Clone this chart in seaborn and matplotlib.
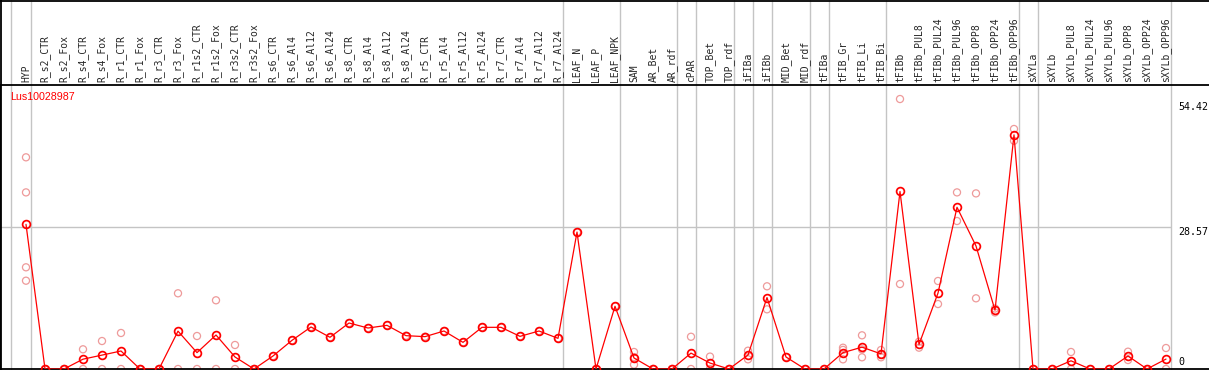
import matplotlib
matplotlib.use("Agg")
import matplotlib.pyplot as plt
import seaborn as sns
import numpy as np
import pandas as pd
from matplotlib.lines import Line2D

gene = "Lus10028987"

samples = ["HYP", "R_s2_CTR", "R_s2_Fox", "R_s4_CTR", "R_s4_Fox", "R_r1_CTR", "R_r1_Fox",
           "R_r3_CTR", "R_r3_Fox", "R_r1s2_CTR", "R_r1s2_Fox", "R_r3s2_CTR", "R_r3s2_Fox",
           "R_s6_CTR", "R_s6_Al4", "R_s6_Al12", "R_s6_Al24", "R_s8_CTR", "R_s8_Al4", "R_s8_Al12",
           "R_s8_Al24", "R_r5_CTR", "R_r5_Al4", "R_r5_Al12", "R_r5_Al24", "R_r7_CTR", "R_r7_Al4",
           "R_r7_Al12", "R_r7_Al24", "LEAF_N", "LEAF_P", "LEAF_NPK", "SAM", "AR_Bet", "AR_rdf",
           "cPAR", "TOP_Bet", "TOP_rdf", "iFIBa", "iFIBb", "MID_Bet", "MID_rdf", "tFIBa",
           "tFIB_Gr", "tFIB_Li", "tFIB_Bi", "tFIBb", "tFIBb_PUL8", "tFIBb_PUL24", "tFIBb_PUL96",
           "tFIBb_OPP8", "tFIBb_OPP24", "tFIBb_OPP96", "sXYLa", "sXYLb", "sXYLb_PUL8",
           "sXYLb_PUL24", "sXYLb_PUL96", "sXYLb_OPP8", "sXYLb_OPP24", "sXYLb_OPP96"]

means = [29.15, 0, 0, 1.98, 2.8, 3.63, 0, 0, 7.63, 3.3, 6.85, 2.42, 0,
         2.62, 5.78, 8.47, 6.39, 9.27, 8.26, 8.8, 6.72, 6.52, 7.66, 5.37, 8.4, 8.4, 6.58,
         7.66, 6.18, 27.6, 0, 12.64, 2.22, 0, 0, 3.2, 1.2, 0, 2.82, 14.4, 2.42, 0, 0,
         3.3, 4.4, 3.05, 35.78, 4.95, 15.3, 32.6, 24.8, 11.85, 47.2, 0, 0, 1.65,
         0, 0, 2.62, 0, 2.0]

replicates = [[42.67, 35.6, 20.5, 17.8], [0, 0], [0, 0], [3.97, 0], [5.64, 0], [7.26, 0],
              [0, 0], [0, 0], [15.26, 0], [6.65, 0], [13.85, 0], [4.84, 0], [0, 0],
              [2.62], [5.78], [8.47], [6.39], [9.27], [8.26], [8.8], [6.72], [6.52], [7.66],
              [5.37], [8.4], [8.4], [6.58], [7.66], [6.18], [27.6], [0], [12.64],
              [3.43, 2.4, 0.87], [0, 0], [0, 0], [6.5, 0], [2.5, 0], [0, 0], [3.69, 1.95],
              [16.67, 12.03], [2.42], [0], [0], [4.29, 3.85, 1.95], [6.79, 3.95, 2.36],
              [3.83, 2.9, 2.36], [54.42, 17.13], [5.5, 4.3], [17.74, 13.1], [35.6, 29.83],
              [35.4, 14.25], [12.2, 11.4], [48.38, 46.0], [0], [0], [3.43, 0], [0], [0],
              [3.49, 1.81], [0], [4.23, 0]]

group_ends = [0, 28, 31, 34, 35, 37, 38, 39, 41, 42, 45, 52, 53, 60]
scale_labels = ["54.42", "28.57", "0"]
scale_values = [54.42, 28.57, 0]

# ---------------------------------------------------------------
W, H = 1209, 370
fig = plt.figure(figsize=(W / 100, H / 100), dpi=100)
sns.set_style("white")

# axes: pixel rows 85..369 from top
ax = fig.add_axes([0, 1 / H, 1, 284 / H])
px_per_unit = 4.961
ytop = 284 / px_per_unit
x0 = -26 / 19
x1 = (W - 26) / 19
ax.set_xlim(x0, x1)
ax.set_ylim(0, ytop)

idx = np.arange(len(samples))
rep_df = pd.DataFrame({
    "x": np.concatenate([[i] * len(r) for i, r in enumerate(replicates)]),
    "value": np.concatenate([np.array(r, dtype=float) for r in replicates]),
})
mean_df = pd.DataFrame({"x": idx, "value": means})

# grid lines
for g in group_ends:
    ax.axvline(g + 0.25, ymin=0, ymax=369 / 284, color="#c4c4c4", lw=1.0,
               clip_on=False, zorder=0.5)
ax.axvline(-0.8, ymin=0, ymax=369 / 284, color="#c4c4c4", lw=1.0, clip_on=False, zorder=0.5)
ax.hlines(28.57, x0, 60.25, color="#c4c4c4", lw=1.0, zorder=0.5)

sns.scatterplot(data=rep_df, x="x", y="value", ax=ax, marker="o", s=26,
                facecolors="none", edgecolor="#ee9a9a", linewidth=0.9, zorder=2, legend=False)
sns.lineplot(data=mean_df, x="x", y="value", ax=ax, color="red", lw=0.9,
             estimator=None, zorder=3, legend=False)
ax.plot(mean_df["x"], mean_df["value"], ls="none", marker="o", ms=5.6, mfc="none",
        mec="red", mew=1.25, zorder=4)

ax.set_xlabel("")
ax.set_ylabel("")
ax.set_yticks([])
ax.set_xticks(idx)
ax.set_xticklabels(samples, rotation=90, fontsize=7.0, family="DejaVu Sans Mono")
ax.xaxis.tick_top()
ax.tick_params(axis="x", length=0, pad=2)

for sname in ["left", "top", "bottom"]:
    ax.spines[sname].set_color("black")
    ax.spines[sname].set_linewidth(1.3)
ax.spines["right"].set_visible(False)

# scale labels at right
lab_x = (1178 - 26) / 19
centers_px = [107, 232.5, 361.7]
for lab, cy in zip(scale_labels, centers_px):
    ax.text(lab_x, (369 - cy) / px_per_unit, lab, ha="left", va="center",
            fontsize=7.2, family="DejaVu Sans Mono", color="black", clip_on=False)

fig.text(10 / W, 1 - 97 / H, gene, color="red", fontsize=7.7,
         family="Liberation Sans", ha="left", va="center")

# outer borders: top line and left line across full height
fig.add_artist(Line2D([0, 1], [1 - 0.5 / H, 1 - 0.5 / H], transform=fig.transFigure,
                      color="black", lw=1.3))
fig.add_artist(Line2D([0.5 / W, 0.5 / W], [0, 1], transform=fig.transFigure,
                      color="black", lw=1.3))

fig.savefig("out.png", dpi=100)
